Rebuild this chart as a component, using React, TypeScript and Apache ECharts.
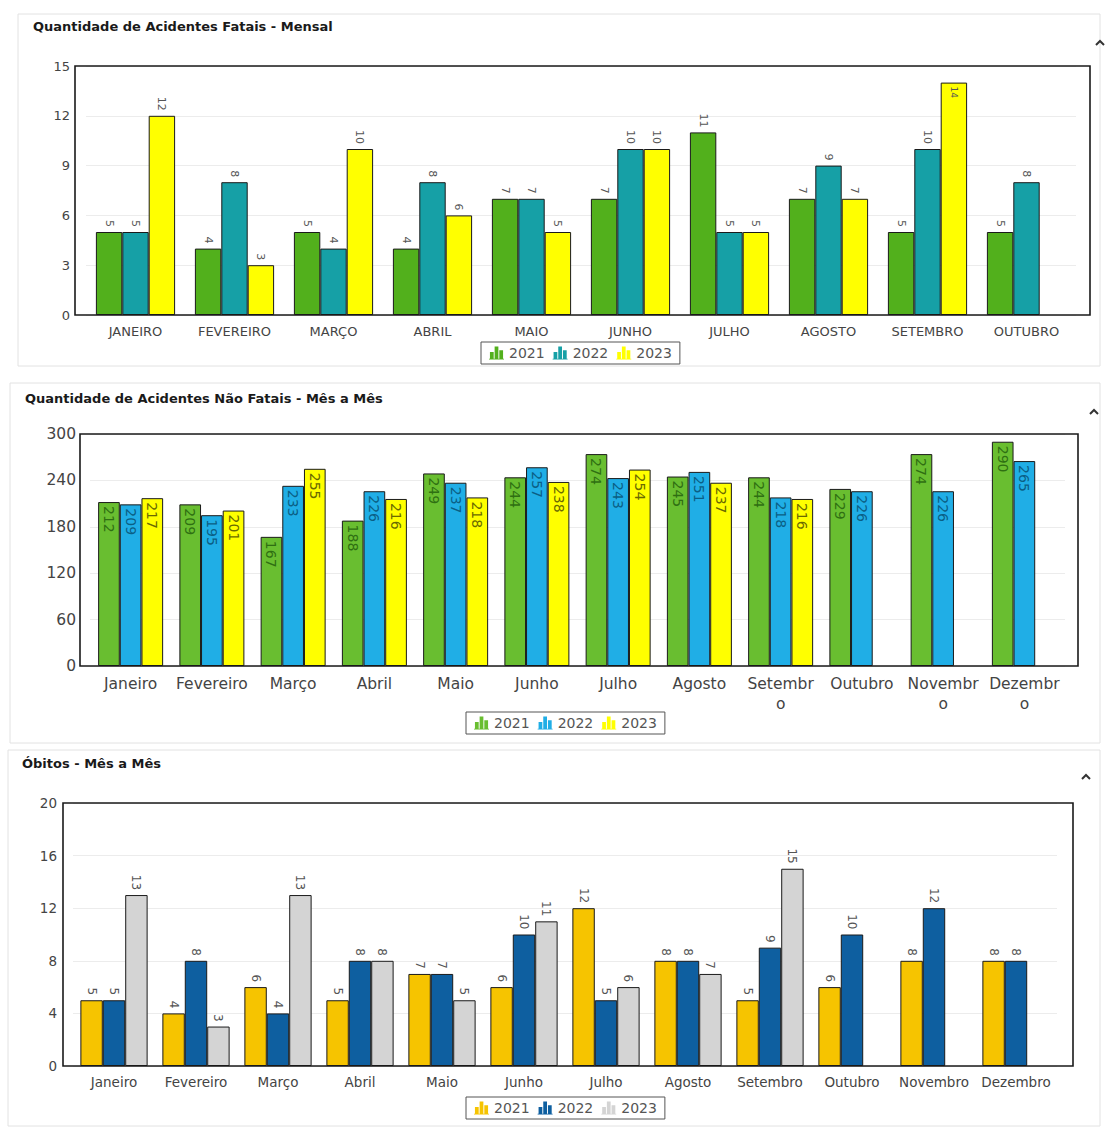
import React, { useEffect, useRef } from "react";
import * as echarts from "echarts";

// ---------- DATA ----------
const fatalCategories = ["JANEIRO", "FEVEREIRO", "MARÇO", "ABRIL", "MAIO", "JUNHO", "JULHO", "AGOSTO", "SETEMBRO", "OUTUBRO"];
const fatal2021 = [5, 4, 5, 4, 7, 7, 11, 7, 5, 5];
const fatal2022 = [5, 8, 4, 8, 7, 10, 5, 9, 10, 8];
const fatal2023 = [12, 3, 10, 6, 5, 10, 5, 7, 14];

const months = ["Janeiro", "Fevereiro", "Março", "Abril", "Maio", "Junho", "Julho", "Agosto", "Setembro", "Outubro", "Novembro", "Dezembro"];
const nonFatalTickLabels = ["Janeiro", "Fevereiro", "Março", "Abril", "Maio", "Junho", "Julho", "Agosto", "Setembr\no", "Outubro", "Novembr\no", "Dezembr\no"];
const nonFatal2021 = [212, 209, 167, 188, 249, 244, 274, 245, 244, 229, 274, 290];
const nonFatal2022 = [209, 195, 233, 226, 237, 257, 243, 251, 218, 226, 226, 265];
const nonFatal2023 = [217, 201, 255, 216, 218, 238, 254, 237, 216];

const deaths2021 = [5, 4, 6, 5, 7, 6, 12, 8, 5, 6, 8, 8];
const deaths2022 = [5, 8, 4, 8, 7, 10, 5, 8, 9, 10, 12, 8];
const deaths2023 = [13, 3, 13, 8, 5, 11, 6, 7, 15];

const years = ["2021", "2022", "2023"];

// ---------- STYLE ----------
const FONT = "DejaVu Sans";
const ICON = "path://M0,15h16v1h-16z M1,8h4v7h-4z M6,2h4v13h-4z M11,6h4v9h-4z";

type PanelCfg = {
  title: string;
  titleLeft: number;
  titleTop: number;
  height: number;
  grid: { left: number; right: number; top: number; bottom: number };
  frame: { x1: number; x2: number };
  yMax: number;
  yInterval: number;
  categories: string[];
  tickLabels?: string[];
  series: number[][];
  colors: string[];
  labelColors: string[];
  labelMode: "top" | "inside";
  fontSize: number;
  barLabelSize: number;
  xLineHeight: number;
  yMargin: number;
  barCategoryGap: string;
  legendLeft: number;
  legendTop: number;
  panelRect: { x: number; y: number; w: number; h: number };
  chevron: { x: number; y: number };
  insideAbove?: number;
};

function buildOption(cfg: PanelCfg) {
  const series = cfg.series.map((vals, i) => {
    const data = vals.map((v) => {
      if (cfg.labelMode === "top" && cfg.insideAbove !== undefined && v > cfg.insideAbove) {
        return {
          value: v,
          label: { position: "insideTop", align: "left", distance: 4, color: "#555", fontSize: 9 },
        };
      }
      return v;
    });
    const label =
      cfg.labelMode === "top"
        ? {
            show: true,
            position: "top",
            rotate: -90,
            align: "right",
            verticalAlign: "middle",
            distance: 5,
            color: "#555",
            fontFamily: FONT,
            fontSize: cfg.barLabelSize,
          }
        : {
            show: true,
            position: "insideTop",
            rotate: -90,
            align: "left",
            verticalAlign: "middle",
            distance: 4,
            color: cfg.labelColors[i],
            fontFamily: FONT,
            fontSize: cfg.barLabelSize,
          };
    return {
      name: years[i],
      type: "bar",
      data,
      barGap: "0%",
      barCategoryGap: cfg.barCategoryGap,
      itemStyle: { color: cfg.colors[i], borderColor: "#1a1a1a", borderWidth: 1 },
      label,
    };
  });

  const frameTop = cfg.grid.top;
  const frameBottom = cfg.height - cfg.grid.bottom;

  return {
    animation: false,
    backgroundColor: "#ffffff",
    textStyle: { fontFamily: FONT },
    grid: { ...cfg.grid, show: false, containLabel: false },
    legend: {
      left: cfg.legendLeft,
      top: cfg.legendTop,
      orient: "horizontal",
      padding: [4, 8],
      itemGap: 8,
      itemWidth: 15,
      itemHeight: 15,
      borderColor: "#555",
      borderWidth: 1,
      textStyle: { color: "#555", fontSize: 14, fontFamily: FONT },
      itemStyle: { borderWidth: 0 },
      data: years.map((y, i) => ({ name: y, icon: ICON, itemStyle: { color: cfg.colors[i], borderWidth: 0 } })),
      selectedMode: false,
    },
    xAxis: {
      type: "category",
      data: cfg.categories,
      axisLine: { show: false },
      axisTick: { show: false },
      axisLabel: {
        color: "#444",
        fontSize: cfg.fontSize,
        fontFamily: FONT,
        margin: 8,
        interval: 0,
        lineHeight: cfg.xLineHeight,
        formatter: (v: string, idx: number) => (cfg.tickLabels ? cfg.tickLabels[idx] : v),
      },
    },
    yAxis: {
      type: "value",
      min: 0,
      max: cfg.yMax,
      interval: cfg.yInterval,
      axisLine: { show: false },
      axisTick: { show: false },
      axisLabel: { color: "#444", fontSize: cfg.fontSize, fontFamily: FONT, margin: cfg.yMargin },
      splitLine: { show: true, lineStyle: { color: "#ececec", width: 1 } },
    },
    graphic: [
      {
        type: "rect",
        shape: { x: cfg.panelRect.x, y: cfg.panelRect.y, width: cfg.panelRect.w, height: cfg.panelRect.h },
        style: { fill: "none", stroke: "#e2e2e2", lineWidth: 1 },
        silent: true,
        z: -1,
      },
      {
        type: "rect",
        shape: { x: cfg.frame.x1, y: frameTop, width: cfg.frame.x2 - cfg.frame.x1, height: frameBottom - frameTop },
        style: { fill: "none", stroke: "#1a1a1a", lineWidth: 1.6 },
        silent: true,
        z: 10,
      },
      {
        type: "text",
        left: cfg.titleLeft,
        top: cfg.titleTop,
        style: { text: cfg.title, fontFamily: FONT, fontWeight: "bold", fontSize: 13, fill: "#1a1a1a" },
      },
      {
        type: "polyline",
        shape: {
          points: [
            [cfg.chevron.x - 4, cfg.chevron.y + 3],
            [cfg.chevron.x, cfg.chevron.y - 1],
            [cfg.chevron.x + 4, cfg.chevron.y + 3],
          ],
        },
        style: { stroke: "#333", lineWidth: 2, fill: "none" },
      },
    ],
    series,
  };
}

const panel1: PanelCfg = {
  title: "Quantidade de Acidentes Fatais - Mensal",
  titleLeft: 33,
  titleTop: 20,
  height: 372,
  grid: { left: 86, right: 29, top: 66, bottom: 57 },
  frame: { x1: 75, x2: 1090 },
  yMax: 15,
  yInterval: 3,
  categories: fatalCategories,
  series: [fatal2021, fatal2022, fatal2023],
  colors: ["#52b01c", "#16a0a6", "#ffff00"],
  labelColors: ["#555", "#555", "#555"],
  labelMode: "top",
  fontSize: 13,
  barLabelSize: 11,
  xLineHeight: 16,
  yMargin: 16,
  barCategoryGap: "20%",
  legendLeft: 481,
  legendTop: 342,
  panelRect: { x: 18, y: 14, w: 1082, h: 352 },
  chevron: { x: 1100, y: 42 },
  insideAbove: 13,
};

const panel2: PanelCfg = {
  title: "Quantidade de Acidentes Não Fatais - Mês a Mês",
  titleLeft: 25,
  titleTop: 20,
  height: 373,
  grid: { left: 90, right: 40, top: 62, bottom: 79 },
  frame: { x1: 80, x2: 1078 },
  yMax: 300,
  yInterval: 60,
  categories: months,
  tickLabels: nonFatalTickLabels,
  series: [nonFatal2021, nonFatal2022, nonFatal2023],
  colors: ["#69be30", "#20aee6", "#ffff00"],
  labelColors: ["#2f6f12", "#0b5f85", "#6a6a00"],
  labelMode: "inside",
  fontSize: 15.5,
  barLabelSize: 14,
  xLineHeight: 20,
  yMargin: 14,
  barCategoryGap: "20%",
  legendLeft: 466,
  legendTop: 340,
  panelRect: { x: 10, y: 11, w: 1090, h: 360 },
  chevron: { x: 1094, y: 39 },
};

const panel3: PanelCfg = {
  title: "Óbitos - Mês a Mês",
  titleLeft: 22,
  titleTop: 12,
  height: 382,
  grid: { left: 73, right: 48, top: 58, bottom: 61 },
  frame: { x1: 63, x2: 1073 },
  yMax: 20,
  yInterval: 4,
  categories: months,
  series: [deaths2021, deaths2022, deaths2023],
  colors: ["#f6c400", "#0e5fa0", "#d4d4d4"],
  labelColors: ["#555", "#555", "#555"],
  labelMode: "top",
  fontSize: 13.5,
  barLabelSize: 12,
  xLineHeight: 16,
  yMargin: 16,
  barCategoryGap: "18%",
  legendLeft: 466,
  legendTop: 352,
  panelRect: { x: 8, y: 5, w: 1092, h: 376 },
  chevron: { x: 1086, y: 31 },
};

function Panel({ cfg, top }: { cfg: PanelCfg; top: number }) {
  const ref = useRef<HTMLDivElement>(null);
  useEffect(() => {
    if (!ref.current) return;
    const chart = echarts.init(ref.current, undefined, { renderer: "svg" });
    chart.setOption(buildOption(cfg) as any);
    return () => chart.dispose();
  }, [cfg]);
  return (
    <div
      ref={ref}
      style={{ position: "absolute", left: 0, top, width: 1105, height: cfg.height }}
    />
  );
}

export default function App() {
  return (
    <div
      style={{
        position: "absolute",
        left: 0,
        top: 0,
        width: 1105,
        height: 1127,
        background: "#ffffff",
        overflow: "hidden",
      }}
    >
      <Panel cfg={panel1} top={0} />
      <Panel cfg={panel2} top={372} />
      <Panel cfg={panel3} top={745} />
    </div>
  );
}
